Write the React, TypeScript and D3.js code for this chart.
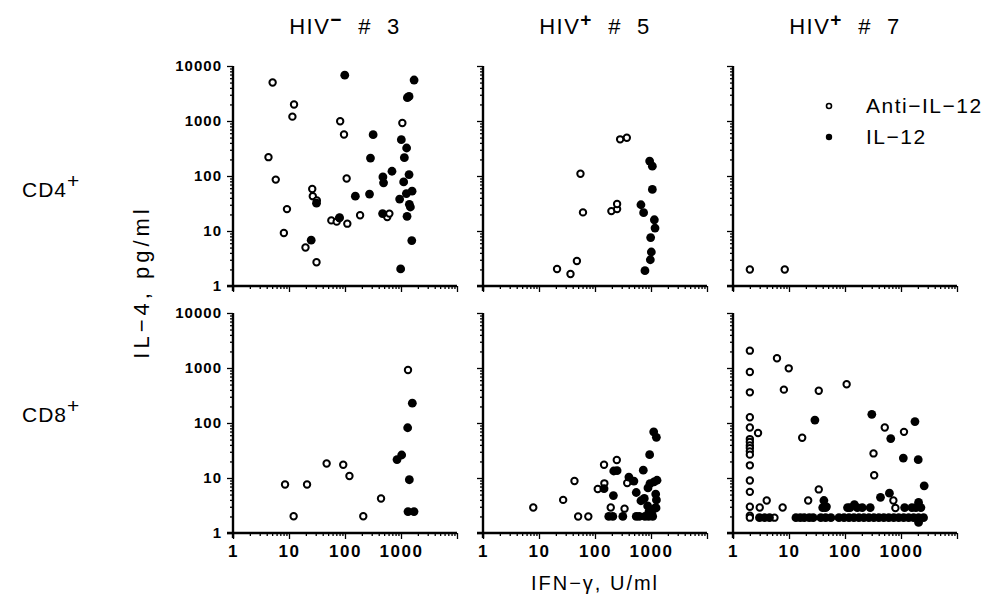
import React, { useRef, useEffect } from 'react';
import * as d3 from 'd3';

type Pt = [number, number]; // [IFN-gamma U/ml, IL-4 pg/ml]

// CD4+ / HIV- #3
const cd4Hiv3Anti: Pt[] = [
  [5.1, 5000], [12.3, 2000], [11.5, 1200], [4.3, 220], [5.8, 86], [9.2, 25], [8.1, 9.2],
  [26, 58], [26.6, 43], [31.4, 36], [19.7, 5.0], [31, 2.7], [82, 990], [96, 570], [107, 90],
  [57, 15.6], [71, 14.8], [79, 17.2], [110, 13.6], [186, 19.3], [568, 18], [620, 20.7], [1057, 920],
];
const cd4Hiv3Il12: Pt[] = [
  [99, 6800], [1713, 5560], [1392, 2800], [1300, 2650], [318, 565], [285, 212], [1014, 458],
  [1260, 323], [1148, 215], [690, 122], [475, 96], [488, 75], [1392, 106], [1116, 78], [1247, 48],
  [1577, 53], [946, 38], [153, 43], [274, 47], [1410, 30.5], [1472, 27.3], [469, 20.7], [1282, 18.5],
  [31, 32], [24.9, 6.8], [1557, 6.7], [986, 2.04], [80, 17.5],
];

// CD4+ / HIV+ #5
const cd4Hiv5Anti: Pt[] = [
  [21, 2.04], [36.5, 1.65], [47.5, 2.85], [55, 110], [61, 21.8], [196, 23], [248, 25], [248, 31],
  [281, 464], [370, 497],
];
const cd4Hiv5Il12: Pt[] = [
  [946, 187], [1057, 151], [1057, 57], [661, 30], [738, 21.5], [1148, 16], [1180, 11.3], [986, 7.6],
  [1014, 4.15], [973, 3.0], [780, 1.9],
];

// CD4+ / HIV+ #7
const cd4Hiv7Anti: Pt[] = [[2, 2], [8.4, 2]];
const cd4Hiv7Il12: Pt[] = [];

// CD8+ / HIV- #3
const cd8Hiv3Anti: Pt[] = [
  [8.5, 7.6], [12.1, 2.02], [21, 7.6], [47, 18.3], [93, 17.4], [120, 10.9], [212, 2.02], [440, 4.25],
  [1334, 920],
];
const cd8Hiv3Il12: Pt[] = [
  [1593, 229], [1315, 82], [849, 21.6], [1028, 26.2], [1409, 9.3], [1334, 2.45], [1707, 2.45],
];

// CD8+ / HIV+ #5
const cd8Hiv5Anti: Pt[] = [
  [7.9, 2.9], [27, 4.0], [43, 8.8], [50, 2], [76, 2], [112, 6.3], [147, 8.0], [145, 17.4], [245, 21.3],
  [191, 2.9], [337, 2.77], [376, 8.1], [1200, 2.9],
];
const cd8Hiv5Il12: Pt[] = [
  [1117, 69], [1247, 55], [946, 26.6], [728, 13.9], [216, 13.4], [248, 13.6], [403, 10.4], [495, 8.8],
  [145, 6.4], [213, 4.8], [545, 5.45], [759, 4.25], [661, 3.86], [959, 7.9], [1132, 8.5], [1281, 9.1],
  [883, 6.6], [1213, 5.1], [871, 3.1], [1028, 2.55], [1230, 2.85], [921, 2.45], [176, 2], [208, 2],
  [314, 2], [545, 2], [617, 2], [780, 2], [908, 2], [1072, 2], [1028, 2.2], [1250, 4.0],
];

// CD8+ / HIV+ #7
const cd8Hiv7Anti: Pt[] = [
  [2, 2066], [2, 846], [2, 361], [2, 127], [2, 83], [2, 51], [2, 45], [2, 39], [2, 35], [2, 30.5],
  [2, 26.6], [2, 17], [2, 9], [2, 5.6], [2, 3.0], [2, 2.07], [2, 1.9], [2.8, 66], [3.0, 2.9], [4.0, 3.9],
  [6.1, 1500], [9.9, 986], [8.1, 404], [7.7, 2.9], [17.2, 54], [34, 387], [34, 6.2], [22, 3.9],
  [107, 505], [323, 28], [332, 11.2], [513, 83], [1131, 69], [731, 3.9], [794, 2.85], [47, 3.0],
  [5.5, 1.9],
];
const cd8Hiv7Il12: Pt[] = [
  [29, 113], [301, 144], [656, 52], [1775, 106], [1100, 23], [2030, 21.5], [2595, 7.2], [430, 4.45],
  [621, 5.3], [42, 3.9], [40, 2.9], [45, 2.9], [111, 2.9], [123, 2.9], [147, 3.27], [166, 2.9],
  [203, 2.9], [282, 2.9], [1161, 2.9], [1567, 2.9], [2060, 3.6], [2265, 2.9], [1846, 2.9], [2060, 1.56],
  [2.97, 1.9], [3.65, 1.9], [4.48, 1.9], [13.3, 1.9], [15.9, 1.9], [18.7, 1.9], [23, 1.9], [27, 1.9],
  [37, 1.9], [45, 1.9], [56, 1.9], [78, 1.9], [96, 1.9], [118, 1.9], [144, 1.9], [177, 1.9], [217, 1.9],
  [267, 1.9], [327, 1.9], [402, 1.9], [492, 1.9], [604, 1.9], [741, 1.9], [909, 1.9], [1115, 1.9],
  [1368, 1.9], [1678, 1.9], [2059, 1.9], [2525, 1.9],
];

const columnTitles = [
  { name: 'HIV', sign: '−', donor: '  #  3' },
  { name: 'HIV', sign: '+', donor: '  #  5' },
  { name: 'HIV', sign: '+', donor: '  #  7' },
];
const rowLabels = ['CD4', 'CD8'];
const decades = [1, 10, 100, 1000, 10000];
const legendLabels = ['Anti−IL−12', 'IL−12'];

const panels = [
  { row: 0, col: 0, anti: cd4Hiv3Anti, il12: cd4Hiv3Il12 },
  { row: 0, col: 1, anti: cd4Hiv5Anti, il12: cd4Hiv5Il12 },
  { row: 0, col: 2, anti: cd4Hiv7Anti, il12: cd4Hiv7Il12 },
  { row: 1, col: 0, anti: cd8Hiv3Anti, il12: cd8Hiv3Il12 },
  { row: 1, col: 1, anti: cd8Hiv5Anti, il12: cd8Hiv5Il12 },
  { row: 1, col: 2, anti: cd8Hiv7Anti, il12: cd8Hiv7Il12 },
];

const App = () => {
  const svgRef = useRef<SVGSVGElement>(null);

  useEffect(() => {
    const width = 994;
    const height = 602;
    const colX = [233, 483, 733];
    const rowY = [66, 313];
    const panelW = 224;
    const panelH = 220;
    const font = "'Liberation Sans', Arial, sans-serif";

    const svg = d3.select(svgRef.current);
    svg.selectAll('*').remove();
    svg.attr('width', width).attr('height', height).attr('viewBox', `0 0 ${width} ${height}`);
    svg.append('rect').attr('width', width).attr('height', height).attr('fill', '#fff');

    const minors = d3.range(0, 4).flatMap(e => d3.range(2, 10).map(m => m * 10 ** e));

    panels.forEach(p => {
      const x0 = colX[p.col];
      const y0 = rowY[p.row];
      const x = d3.scaleLog().domain([1, 10000]).range([x0, x0 + panelW]);
      const y = d3.scaleLog().domain([1, 10000]).range([y0 + panelH, y0]);
      const g = svg.append('g');

      // minor ticks
      g.append('g')
        .attr('transform', `translate(${x0},0)`)
        .call(d3.axisLeft(y).tickValues(minors).tickSize(3).tickFormat(() => ''))
        .call(s => s.select('.domain').remove());
      g.append('g')
        .attr('transform', `translate(0,${y0 + panelH})`)
        .call(d3.axisBottom(x).tickValues(minors).tickSize(3).tickFormat(() => ''))
        .call(s => s.select('.domain').remove());

      // major ticks + labels
      const yAx = g.append('g')
        .attr('transform', `translate(${x0},0)`)
        .call(d3.axisLeft(y).tickValues(decades).tickSize(6).tickPadding(5)
          .tickFormat(d => (p.col === 0 ? String(d) : '')))
        .call(s => s.select('.domain').remove());
      yAx.selectAll('text')
        .attr('font-family', font).attr('font-size', 15).attr('font-weight', 'bold')
        .attr('letter-spacing', 1).attr('fill', '#000');

      const xAx = g.append('g')
        .attr('transform', `translate(0,${y0 + panelH})`)
        .call(d3.axisBottom(x).tickValues(decades).tickSize(6).tickPadding(6)
          .tickFormat(d => (p.row === 1 && +d < 10000 ? String(d) : '')))
        .call(s => s.select('.domain').remove());
      xAx.selectAll('text')
        .attr('font-family', font).attr('font-size', 17).attr('font-weight', 'bold')
        .attr('letter-spacing', 1.5).attr('fill', '#000');

      g.selectAll('.tick line').attr('stroke', '#000').attr('stroke-width', 1.3);

      // axis lines
      g.append('line')
        .attr('x1', x0).attr('x2', x0).attr('y1', y0).attr('y2', y0 + panelH + 5)
        .attr('stroke', '#000').attr('stroke-width', 2.4);
      g.append('line')
        .attr('x1', x0 - 6).attr('x2', x0 + panelW).attr('y1', y0 + panelH).attr('y2', y0 + panelH)
        .attr('stroke', '#000').attr('stroke-width', 2.4);

      // points
      g.append('g')
        .selectAll('circle')
        .data(p.anti)
        .join('circle')
          .attr('cx', d => x(d[0]))
          .attr('cy', d => y(d[1]))
          .attr('r', 3.2)
          .attr('fill', '#fff')
          .attr('stroke', '#000')
          .attr('stroke-width', 2);
      g.append('g')
        .selectAll('circle')
        .data(p.il12)
        .join('circle')
          .attr('cx', d => x(d[0]))
          .attr('cy', d => y(d[1]))
          .attr('r', 4.4)
          .attr('fill', '#000');
    });

    // column titles
    columnTitles.forEach((t, i) => {
      const txt = svg.append('text')
        .attr('x', colX[i] + panelW / 2)
        .attr('y', 34)
        .attr('text-anchor', 'middle')
        .attr('font-family', font)
        .attr('font-size', 22)
        .attr('letter-spacing', 1.5)
        .style('white-space', 'pre');
      txt.append('tspan').text(t.name);
      txt.append('tspan').attr('dy', -8).attr('font-size', 19).attr('font-weight', 'bold').text(t.sign);
      txt.append('tspan').attr('dy', 8).text(t.donor);
    });

    // row labels
    rowLabels.forEach((r, i) => {
      const txt = svg.append('text')
        .attr('x', 22)
        .attr('y', i === 0 ? 197 : 422)
        .attr('font-family', font)
        .attr('font-size', 21)
        .attr('letter-spacing', 1);
      txt.append('tspan').text(r);
      txt.append('tspan').attr('dy', -9).attr('font-size', 21).text('+');
    });

    // axis titles
    svg.append('text')
      .attr('transform', 'translate(149,282) rotate(-90)')
      .attr('text-anchor', 'middle')
      .attr('font-family', font)
      .attr('font-size', 22)
      .attr('letter-spacing', 4)
      .text('IL−4, pg/ml');
    svg.append('text')
      .attr('x', colX[1] + panelW / 2)
      .attr('y', 590)
      .attr('text-anchor', 'middle')
      .attr('font-family', font)
      .attr('font-size', 20)
      .attr('letter-spacing', 2)
      .text('IFN−γ, U/ml');

    // legend
    const legend = svg.append('g').attr('transform', 'translate(829,106)');
    legendLabels.forEach((lbl, i) => {
      const row = legend.append('g').attr('transform', `translate(0,${i * 31})`);
      row.append('circle')
        .attr('r', i === 0 ? 2.5 : 3.2)
        .attr('fill', i === 0 ? '#fff' : '#000')
        .attr('stroke', '#000')
        .attr('stroke-width', i === 0 ? 1.6 : 0);
      row.append('text')
        .attr('x', 37)
        .attr('y', 7)
        .attr('font-family', font)
        .attr('font-size', 21)
        .attr('letter-spacing', 1.5)
        .text(lbl);
    });
  }, []);

  return (
    <svg ref={svgRef} style={{ position: 'absolute', left: 0, top: 0, display: 'block' }} />
  );
};

export default App;
